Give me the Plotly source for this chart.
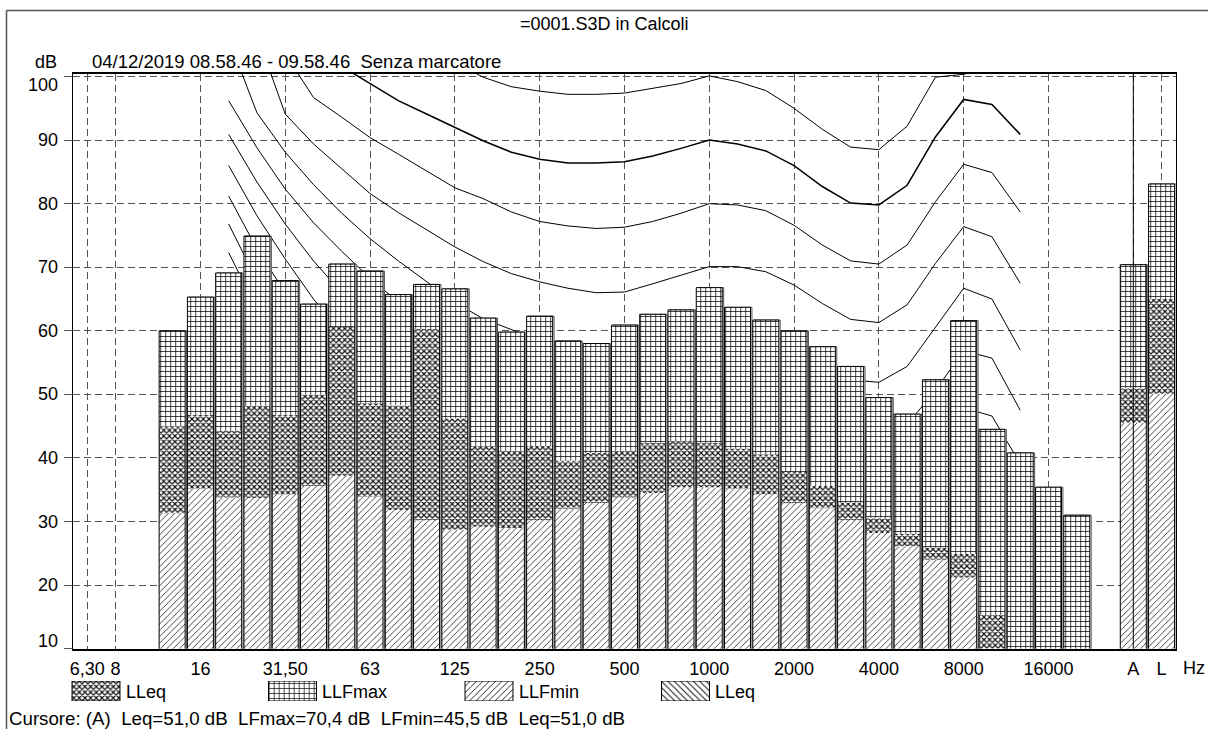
import plotly.graph_objects as go

# ---------------- data ----------------
bands = ["6,3", "8", "10", "12,5", "16", "20", "25", "31,5", "40", "50", "63", "80", "100",
         "125", "160", "200", "250", "315", "400", "500", "630", "800", "1000", "1250",
         "1600", "2000", "2500", "3150", "4000", "5000", "6300", "8000", "10000", "12500",
         "16000", "20000"]
totals = ["A", "L"]

bar_bands = ["12,5", "16", "20", "25", "31,5", "40", "50", "63", "80", "100", "125", "160",
             "200", "250", "315", "400", "500", "630", "800", "1000", "1250", "1600", "2000",
             "2500", "3150", "4000", "5000", "6300", "8000", "10000", "12500", "16000",
             "20000", "A", "L"]
lfmax = [60.0, 65.3, 69.1, 74.9, 67.9, 64.2, 70.5, 69.4, 65.7, 67.3, 66.6, 62.0, 59.8, 62.3,
         58.4, 58.0, 60.9, 62.6, 63.3, 66.8, 63.7, 61.7, 60.0, 57.5, 54.4, 49.5, 46.9, 52.3,
         61.6, 44.5, 40.8, 35.4, 31.0, 70.4, 83.1]
leq = [45.0, 46.8, 44.3, 48.2, 46.8, 50.0, 60.6, 48.6, 48.3, 60.3, 46.2, 41.8, 41.0, 41.9,
       39.6, 40.8, 41.1, 42.4, 42.6, 42.4, 41.5, 40.6, 37.8, 35.6, 33.0, 30.6, 28.1, 25.9,
       24.9, 15.3, 8.0, 7.0, 6.0, 51.0, 65.0]
lfmin = [31.3, 35.2, 33.8, 33.7, 34.3, 35.6, 37.2, 33.9, 31.8, 30.2, 28.7, 29.2, 29.0, 30.2,
         32.0, 32.9, 33.8, 34.5, 35.4, 35.4, 35.2, 34.3, 32.9, 32.1, 30.2, 28.2, 26.1, 24.0,
         21.2, 9.0, 5.5, 4.5, 3.5, 45.5, 50.1]

# equal-loudness contours (20 Hz .. 12.5 kHz)
curve_bands = ["20", "25", "31,5", "40", "50", "63", "80", "100", "125", "160", "200", "250",
               "315", "400", "500", "630", "800", "1000", "1250", "1600", "2000", "2500",
               "3150", "4000", "5000", "6300", "8000", "10000", "12500"]
phon100 = [130.0, 126.0, 121.0, 117.0, 113.0, 110.0, 107.0, 104.5, 102.2, 99.9, 98.4, 97.7,
           97.2, 97.2, 97.4, 98.1, 98.9, 100.1, 99.2, 97.8, 95.0, 91.7, 88.9, 88.5, 92.2,
           99.9, 100.35, 101.5, 101.0]
phon90 = [126.0, 117.0, 109.5, 105.0, 101.6, 98.9, 96.2, 94.1, 92.0, 89.9, 88.1, 87.0, 86.4,
          86.4, 86.6, 87.5, 88.7, 90.0, 89.4, 88.3, 86.0, 82.7, 80.1, 79.8, 82.9, 90.5, 96.4,
          95.6, 90.9]
phon80 = [122.0, 112.0, 103.6, 96.7, 93.6, 90.4, 87.8, 85.2, 82.5, 80.8, 78.7, 77.2, 76.5,
          76.1, 76.3, 77.2, 78.5, 80.0, 79.8, 78.9, 76.6, 73.5, 71.0, 70.5, 73.5, 80.3, 86.2,
          84.9, 78.7]
phon70 = [118.0, 106.6, 94.1, 89.4, 85.5, 81.6, 78.6, 75.9, 73.2, 70.9, 69.0, 67.7, 66.7,
          66.0, 66.1, 67.4, 68.8, 70.1, 70.1, 69.3, 67.2, 64.3, 61.8, 61.3, 64.1, 70.6, 76.4,
          74.8, 67.5]
phon60 = [105.9, 94.3, 88.1, 83.0, 78.5, 74.5, 71.0, 67.8, 64.5, 61.9, 60.2, 58.5, 57.3, 56.4,
          56.2, 57.2, 58.7, 60.0, 60.3, 59.7, 57.9, 55.0, 52.3, 51.9, 54.4, 60.6, 66.7, 65.0,
          57.0]
phon50 = [96.2, 88.8, 82.3, 77.0, 72.5, 68.3, 64.5, 61.0, 58.0, 55.0, 52.5, 50.5, 49.0, 48.0,
          47.5, 48.0, 49.2, 50.0, 50.8, 50.2, 48.5, 45.6, 42.9, 42.2, 45.3, 50.6, 56.9, 55.7,
          47.5]
phon40 = [90.9, 83.4, 76.8, 71.0, 66.0, 61.5, 57.5, 53.8, 50.6, 47.5, 45.0, 42.8, 41.2, 40.0,
          39.2, 39.0, 39.6, 40.0, 41.2, 40.7, 39.1, 36.2, 33.5, 32.8, 35.5, 41.5, 47.9, 46.6,
          39.1]
phon30 = [86.0, 78.1, 71.3, 65.0, 59.5, 54.7, 50.4, 46.5, 43.0, 39.8, 37.0, 34.7, 32.8, 31.4,
          30.4, 29.9, 30.0, 30.0, 31.5, 31.0, 29.5, 26.8, 24.2, 23.5, 26.3, 32.2, 38.7, 37.6,
          30.5]
phon20 = [81.2, 72.9, 66.0, 59.0, 53.0, 47.8, 43.2, 39.0, 35.3, 32.0, 29.0, 26.5, 24.4, 22.7,
          21.5, 20.8, 20.4, 20.0, 21.8, 21.3, 19.9, 17.3, 14.9, 14.2, 17.0, 23.0, 29.5, 28.8,
          21.9]
phon10 = [76.8, 67.9, 60.5, 53.5, 47.3, 41.5, 36.4, 31.8, 27.7, 24.0, 20.8, 18.0, 15.7, 13.8,
          12.4, 11.5, 10.9, 10.0, 11.9, 11.5, 10.2, 7.8, 5.6, 5.0, 7.8, 13.9, 20.4, 19.9, 13.3]
phon0 = [72.3, 63.4, 55.5, 48.2, 41.8, 35.7, 30.3, 25.5, 21.1, 17.2, 13.8, 10.8, 8.3, 6.2, 4.6,
         3.5, 2.6, 2.4, 3.5, 1.7, -1.3, -4.2, -6.0, -5.4, -1.5, 4.3, 11.0, 11.8, 5.0]
curves = [phon100, phon90, phon80, phon70, phon60, phon50, phon40, phon30, phon20, phon10, phon0]
curve_widths = [1, 1.5, 1, 1, 1, 1, 1, 1, 1, 1, 1]

tick_bands = ["6,3", "8", "16", "31,5", "63", "125", "250", "500", "1000", "2000", "4000",
              "8000", "16000", "A", "L"]
tick_text = ["6,30", "8", "16", "31,50", "63", "125", "250", "500", "1000", "2000", "4000",
             "8000", "16000", "A", "L"]
y_ticks = [10, 20, 30, 40, 50, 60, 70, 80, 90, 100]

legend_names = ["LLeq", "LLFmax", "LLFmin", "LLeq"]
legend_shapes = ["x", "+", "/", "\\"]

title_text = "=0001.S3D in Calcoli"
period_text = "04/12/2019 08.58.46 - 09.58.46\u00a0 Senza marcatore"
cursor_text = ("Cursore: (A)\u00a0 Leq=51,0 dB\u00a0 LFmax=70,4 dB\u00a0 LFmin=45,5 dB\u00a0 "
               "Leq=51,0 dB")

# ---------------- layout helpers ----------------
W, H = 1208, 729
PL, PR, PT, PB = 73.2, 1175.7, 74.0, 648.7
FONT = "Liberation Sans, Arial, sans-serif"
cats = bands + [""] + totals
pos = {c: i for i, c in enumerate(cats)}


def px(x):
    return x / W


def py(y):
    return 1 - y / H


xr = [-0.5, len(cats) - 0.5]
yr = [10, 100.4]

fig = go.Figure()

# contours (behind bars: main subplot)
for vals, lw in zip(curves, curve_widths):
    fig.add_trace(go.Scatter(x=[pos[b] for b in curve_bands], y=vals, mode="lines",
                             line=dict(color="black", width=lw), hoverinfo="skip",
                             xaxis="x", yaxis="y"))

bx = [pos[b] for b in bar_bands]
BW = 0.92


def pat(shape, size, sol, fg):
    return dict(shape=shape, size=size, solidity=sol, fgcolor=fg, bgcolor="white",
                fillmode="replace")


# thin shadow edge to the right of every bar
fig.add_trace(go.Bar(x=bx, y=lfmax, base=[0] * len(bx), width=BW, offset=-BW / 2 + 0.05,
                     marker=dict(color="white", line=dict(color="#555", width=1)),
                     xaxis="x2", yaxis="y2", hoverinfo="skip"))
fig.add_trace(go.Bar(x=bx, y=lfmin, base=[0] * len(bx), width=BW,
                     marker=dict(color="white", pattern=pat("/", 4.5, 0.2, "#333"),
                                 line=dict(width=0)),
                     xaxis="x2", yaxis="y2", hoverinfo="skip"))
fig.add_trace(go.Bar(x=bx, y=[a - b for a, b in zip(leq, lfmin)], base=lfmin, width=BW,
                     marker=dict(color="white", pattern=pat("x", 4, 0.5, "#111"),
                                 line=dict(width=0)),
                     xaxis="x2", yaxis="y2", hoverinfo="skip"))
fig.add_trace(go.Bar(x=bx, y=[a - b for a, b in zip(lfmax, leq)], base=leq, width=BW,
                     marker=dict(color="white", pattern=pat("+", 5, 0.27, "#000"),
                                 line=dict(width=0)),
                     xaxis="x2", yaxis="y2", hoverinfo="skip"))
fig.add_trace(go.Bar(x=bx, y=lfmax, base=[0] * len(bx), width=BW,
                     marker=dict(color="rgba(0,0,0,0)", line=dict(color="black", width=1)),
                     xaxis="x2", yaxis="y2", hoverinfo="skip"))

# legend swatches
fig.add_trace(go.Bar(x=list(range(len(legend_names))), y=[1] * len(legend_names),
                     base=[0] * len(legend_names), width=0.244,
                     marker=dict(color="white",
                                 pattern=dict(shape=legend_shapes, size=[4, 5, 4.5, 4.5],
                                              solidity=[0.5, 0.27, 0.2, 0.22],
                                              fgcolor="#111", bgcolor="white",
                                              fillmode="replace"),
                                 line=dict(color="black", width=1)),
                     xaxis="x3", yaxis="y3", hoverinfo="skip"))

grid = dict(showgrid=True, gridcolor="#555", gridwidth=1, griddash="7px,4px")
fig.update_layout(
    width=W, height=H, margin=dict(l=0, r=0, t=0, b=0),
    paper_bgcolor="white", plot_bgcolor="white", showlegend=False, barmode="overlay",
    font=dict(family=FONT, size=18, color="black"),
    xaxis=dict(domain=[px(PL), px(PR)], range=xr, tickmode="array",
               tickvals=[pos[t] for t in tick_bands], ticktext=tick_text, ticks="",
               ticklabelstandoff=3, showline=True, linecolor="black", linewidth=2,
               mirror=True, zeroline=False, automargin=False, **grid),
    yaxis=dict(domain=[py(PB), py(PT)], range=yr, tickmode="array", tickvals=y_ticks,
               showticklabels=False, ticks="outside", ticklen=8, tickcolor="#555",
               showline=True, linecolor="black", linewidth=1, mirror=True,
               zeroline=False, automargin=False, **grid),
    xaxis2=dict(overlaying="x", range=xr, visible=False, anchor="y2"),
    yaxis2=dict(overlaying="y", range=yr, visible=False, anchor="x2"),
    xaxis3=dict(domain=[px(56.7), px(783.75)], range=[-0.2, 3.5], visible=False,
                anchor="y3"),
    yaxis3=dict(domain=[py(701), py(681)], range=[0, 1], visible=False, anchor="x3"),
)

ann = []
for v in y_ticks:
    shift = -8 if v == max(y_ticks) else (8 if v == min(y_ticks) else 0)
    ann.append(dict(x=px(PL), xref="paper", xanchor="right", xshift=-13, y=v, yref="y",
                    yanchor="middle", yshift=shift, text=str(v), showarrow=False))
for i, name in enumerate(legend_names):
    ann.append(dict(x=i + 0.122, xref="x3", xanchor="left", xshift=4, y=0.5, yref="y3",
                    yanchor="middle", yshift=-1, text=name, showarrow=False))
ann += [
    dict(x=px(604), y=py(24), xref="paper", yref="paper", text=title_text,
         showarrow=False, xanchor="center", yanchor="middle"),
    dict(x=px(59), y=py(62), xref="paper", yref="paper", text="dB",
         showarrow=False, xanchor="right", yanchor="middle"),
    dict(x=px(90), y=py(62), xref="paper", yref="paper", text=period_text,
         showarrow=False, xanchor="left", yanchor="middle", font=dict(size=18.5)),
    dict(x=px(1194), y=py(668), xref="paper", yref="paper", text="Hz",
         showarrow=False, xanchor="center", yanchor="middle"),
    dict(x=px(7), y=py(718), xref="paper", yref="paper", text=cursor_text,
         showarrow=False, xanchor="left", yanchor="middle", font=dict(size=18.7)),
]
fig.update_layout(annotations=ann)

fig.add_shape(type="line", xref="x", yref="y", x0=pos["A"], x1=pos["A"], y0=yr[0],
              y1=yr[1], line=dict(color="black", width=1), layer="above")
fig.add_shape(type="line", xref="paper", yref="paper", x0=px(6.5), x1=1, y0=py(10.5),
              y1=py(10.5), line=dict(color="#555", width=1.5))
fig.add_shape(type="line", xref="paper", yref="paper", x0=px(6.5), x1=px(6.5), y0=0,
              y1=py(10.5), line=dict(color="#555", width=1.5))

fig.write_html("out.html")
